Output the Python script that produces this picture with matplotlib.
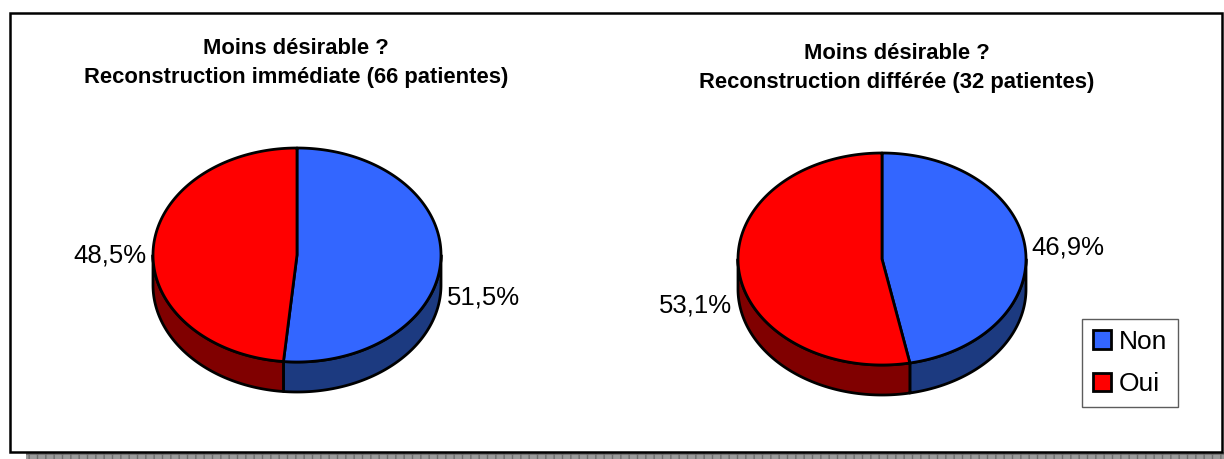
import matplotlib
matplotlib.use('Agg')
import matplotlib.pyplot as plt
from matplotlib.patches import Polygon, Rectangle, Patch
import numpy as np

plt.rcParams['font.family'] = ['Liberation Sans', 'DejaVu Sans']

categories = ['Non', 'Oui']
immediate_pct = [51.5, 48.5]
deferred_pct = [46.9, 53.1]
titles = ['Moins désirable ?\nReconstruction immédiate (66 patientes)',
          'Moins désirable ?\nReconstruction différée (32 patientes)']

top_colors = ['#3366ff', '#ff0000']
side_colors = ['#1c3a80', '#800000']

W, H = 1224, 459


def draw_pie(ax, cx, cy, rx, ry, depth, values):
    fracs = np.array(values) / np.sum(values)
    bounds = np.concatenate([[0], np.cumsum(fracs)]) * 2 * np.pi

    def pt(t):
        return cx + rx * np.sin(t), cy - ry * np.cos(t)

    # side walls (front half only)
    for i in range(len(fracs)):
        a0 = max(bounds[i], np.pi / 2)
        a1 = min(bounds[i + 1], 3 * np.pi / 2)
        if a1 <= a0:
            continue
        t = np.linspace(a0, a1, 150)
        x, y = pt(t)
        xs = np.concatenate([x, x[::-1]])
        ys = np.concatenate([y, y[::-1] + depth])
        ax.add_patch(Polygon(np.column_stack([xs, ys]), closed=True,
                             facecolor=side_colors[i], edgecolor='black',
                             lw=2.0, joinstyle='round'))
    # top face
    for i in range(len(fracs)):
        t = np.linspace(bounds[i], bounds[i + 1], 300)
        x, y = pt(t)
        xs = np.concatenate([[cx], x])
        ys = np.concatenate([[cy], y])
        ax.add_patch(Polygon(np.column_stack([xs, ys]), closed=True,
                             facecolor=top_colors[i], edgecolor='black',
                             lw=2.0, joinstyle='round'))


fig = plt.figure(figsize=(W / 100, H / 100), dpi=100)
ax = fig.add_axes([0, 0, 1, 1])
ax.set_xlim(0, W)
ax.set_ylim(H, 0)
ax.axis('off')

# shadow + chart frame
ax.add_patch(Rectangle((26, 452), W - 26, 8, facecolor='#9a9a9a',
                       edgecolor='#6e6e6e', hatch='++', lw=0))
ax.add_patch(Rectangle((10, 13), 1212, 439, facecolor='white',
                       edgecolor='black', lw=1.8))

draw_pie(ax, 297, 255, 144, 107, 30, immediate_pct)
draw_pie(ax, 882, 259, 144, 106, 30, deferred_pct)


def fmt(v):
    return f'{v:.1f}%'.replace('.', ',')


lab = dict(fontsize=18.5, va='center')
ax.text(447, 297, fmt(immediate_pct[0]), ha='left', **lab)
ax.text(146, 255, fmt(immediate_pct[1]), ha='right', **lab)
ax.text(1031, 247, fmt(deferred_pct[0]), ha='left', **lab)
ax.text(732, 305, fmt(deferred_pct[1]), ha='right', **lab)

ax.text(296, 63, titles[0], ha='center', va='center', fontsize=15.8,
        fontweight='bold', linespacing=1.45)
ax.text(897, 68, titles[1], ha='center', va='center', fontsize=15.8,
        fontweight='bold', linespacing=1.45)

handles = [Patch(facecolor=c, edgecolor='black', lw=2.0) for c in top_colors]
leg = fig.legend(handles, categories, loc='upper left',
                 bbox_to_anchor=(1082 / W, 1 - 319 / H), borderaxespad=0,
                 fontsize=19, fancybox=False, edgecolor='#333333',
                 handlelength=0.7, handleheight=0.7, handletextpad=0.3,
                 labelspacing=0.7, borderpad=0.4)
leg.get_frame().set_linewidth(1.0)

fig.savefig('out.png', dpi=100)
plt.close(fig)
